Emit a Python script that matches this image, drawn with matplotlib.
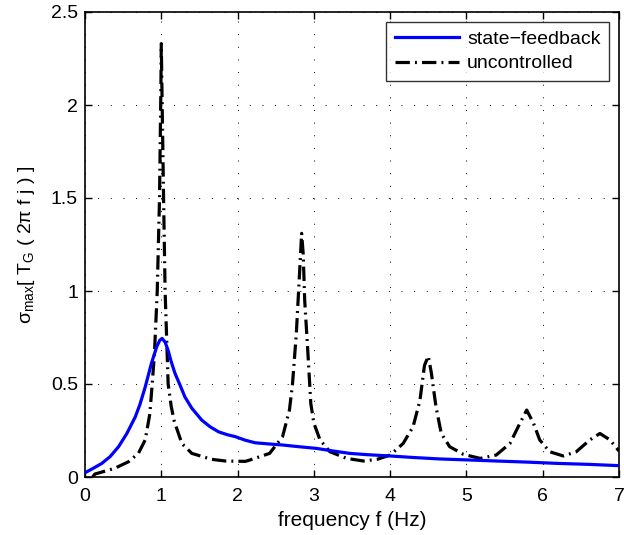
import numpy as np
import matplotlib
matplotlib.use("Agg")
import matplotlib.pyplot as plt

plt.rcParams['font.family'] = ['Liberation Sans', 'DejaVu Sans']

# state-feedback curve
f_sf = [0.0, 0.1, 0.22, 0.33, 0.44, 0.55, 0.66, 0.72, 0.79, 0.87, 0.94, 0.98, 1.01, 1.05,
        1.09, 1.13, 1.18, 1.25, 1.31, 1.4, 1.53, 1.64, 1.75, 1.86, 1.97, 2.1, 2.23, 2.4,
        2.59, 2.8, 3.03, 3.25, 3.47, 3.7, 4.0, 4.3, 4.65, 5.0, 5.39, 5.8, 6.2, 6.6, 7.0]
g_sf = [0.023, 0.045, 0.073, 0.11, 0.163, 0.235, 0.324, 0.39, 0.485, 0.61, 0.70, 0.735, 0.745, 0.725,
        0.68, 0.62, 0.557, 0.49, 0.43, 0.37, 0.306, 0.27, 0.243, 0.228, 0.217, 0.198, 0.184, 0.178,
        0.172, 0.163, 0.154, 0.14, 0.127, 0.12, 0.113, 0.105, 0.097, 0.092, 0.086, 0.08, 0.073, 0.068, 0.061]

# uncontrolled curve
f_un = [0.1, 0.13, 0.25, 0.39, 0.57, 0.7, 0.79, 0.85, 0.875, 0.91, 0.947, 0.977, 0.995, 1.0,
        1.008, 1.03, 1.05, 1.09, 1.13, 1.17, 1.27, 1.4, 1.66, 1.84, 2.1, 2.16, 2.42, 2.59,
        2.68, 2.72, 2.77, 2.8, 2.84, 2.86, 2.88, 2.92, 2.96, 3.0, 3.08, 3.21, 3.43, 3.65,
        3.83, 4.0, 4.17, 4.3, 4.39, 4.45, 4.5, 4.54, 4.6, 4.67, 4.78, 4.96, 5.18, 5.39,
        5.57, 5.7, 5.79, 5.88, 5.96, 6.09, 6.27, 6.44, 6.62, 6.75, 6.88, 6.96, 7.0]
g_un = [0.0, 0.016, 0.03, 0.047, 0.082, 0.127, 0.2, 0.34, 0.47, 0.66, 1.0, 1.5, 2.1, 2.33,
        2.1, 1.5, 1.0, 0.5, 0.38, 0.3, 0.18, 0.127, 0.095, 0.086, 0.084, 0.091, 0.127, 0.217,
        0.36, 0.5, 0.77, 1.0, 1.31, 1.2, 0.95, 0.68, 0.395, 0.29, 0.2, 0.136, 0.1, 0.086,
        0.095, 0.118, 0.18, 0.27, 0.41, 0.6, 0.65, 0.56, 0.38, 0.234, 0.163, 0.122, 0.1, 0.118,
        0.18, 0.288, 0.36, 0.288, 0.2, 0.136, 0.113, 0.136, 0.2, 0.234, 0.2, 0.16, 0.14]

xticks = [0, 1, 2, 3, 4, 5, 6, 7]
yticks = [0, 0.5, 1, 1.5, 2, 2.5]
ytick_labels = ['0', '0.5', '1', '1.5', '2', '2.5']

fig = plt.figure(figsize=(6.24, 5.35), dpi=100)
ax = fig.add_axes([85 / 624, (535 - 477) / 535, 534 / 624, 465 / 535])

ax.plot(f_sf, g_sf, color='#0000ff', lw=2.3, label='state\u2212feedback', zorder=3)
ax.plot(f_un, g_un, color='black', lw=2.3, dashes=(4.5, 1.6, 0.6, 1.6), label='uncontrolled', zorder=2)

ax.set_xlim(0, 7)
ax.set_ylim(0, 2.5)
ax.set_xticks(xticks)
ax.set_yticks(yticks)
ax.set_yticklabels(ytick_labels)
ax.tick_params(direction='in', top=True, right=True, labelsize=14, length=5, width=1)
ax.tick_params(axis='x', pad=8)
ax.tick_params(axis='y', pad=5)
ax.grid(True, color='black', linestyle=(0, (1, 12)), linewidth=0.7)
for s in ax.spines.values():
    s.set_linewidth(1.2)

ax.set_xlabel('frequency f (Hz)', fontsize=15, labelpad=4)
ax.set_ylabel(r'σ$_{\mathregular{max}}$[ T$_{\mathregular{G}}$ ( 2π f j ) ]', fontsize=14, labelpad=10)

leg = ax.legend(loc='upper right', fontsize=14, frameon=True, fancybox=False,
                edgecolor='black', handlelength=3.3, borderpad=0.45, labelspacing=0.35,
                handletextpad=0.4, borderaxespad=0.5)
leg.get_frame().set_linewidth(1.0)

fig.savefig('out.png', dpi=100)
